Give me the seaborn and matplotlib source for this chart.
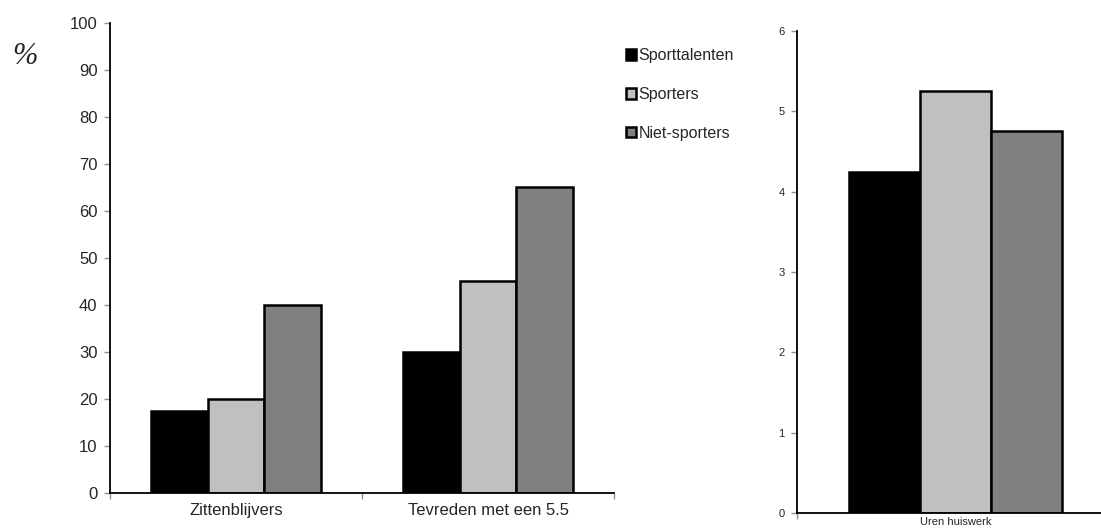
import matplotlib
matplotlib.use("Agg")
import matplotlib.pyplot as plt
import pandas as pd
import seaborn as sns

# data
groups = ["Sporttalenten", "Sporters", "Niet-sporters"]
colors = ["#000000", "#c0c0c0", "#808080"]

left_categories = ["Zittenblijvers", "Tevreden met een 5.5"]
zittenblijvers = [17.5, 20, 40]
tevreden = [30, 45, 65]

right_category = "Uren huiswerk"
uren_huiswerk = [4.25, 5.25, 4.75]

sns.set_style("white")
plt.rcParams["font.family"] = ["Liberation Sans", "DejaVu Sans"]

left_df = pd.DataFrame({
    "cat": [left_categories[0]] * 3 + [left_categories[1]] * 3,
    "group": groups * 2,
    "value": zittenblijvers + tevreden,
})
right_df = pd.DataFrame({
    "cat": [right_category] * 3,
    "group": groups,
    "value": uren_huiswerk,
})

W, H = 1101, 532
fig = plt.figure(figsize=(W / 100, H / 100), dpi=100)

ax1 = fig.add_axes([110 / W, 39 / H, 504 / W, 470 / H])
ax2 = fig.add_axes([797 / W, 19 / H, 317 / W, 482 / H])

palette = dict(zip(groups, colors))

sns.barplot(data=left_df, x="cat", y="value", hue="group", hue_order=groups,
            palette=palette, width=0.675, edgecolor="black", linewidth=1.8,
            saturation=1, ax=ax1, legend=True)
sns.barplot(data=right_df, x="cat", y="value", hue="group", hue_order=groups,
            palette=palette, width=0.67, edgecolor="black", linewidth=1.8,
            saturation=1, ax=ax2, legend=False)

for ax in (ax1, ax2):
    ax.set_xlabel("")
    ax.set_ylabel("")
    for s in ("top", "right"):
        ax.spines[s].set_visible(False)
    for s in ("left", "bottom"):
        ax.spines[s].set_color("black")
        ax.spines[s].set_linewidth(1.3)
    ax.tick_params(axis="x", which="major", length=0, pad=7)
    ax.tick_params(axis="x", which="minor", length=4, color="#909090", width=1,
                   direction="out", bottom=True)
    ax.tick_params(axis="y", length=4, color="#909090", width=1, direction="out",
                   left=True, pad=5)

ax1.set_ylim(0, 100)
ax1.set_yticks(range(0, 101, 10))
ax1.set_xlim(-0.5, 1.5)
ax1.set_xticks([-0.5, 0.5, 1.5], minor=True)
ax1.tick_params(axis="both", labelsize=12)

ax2.set_ylim(0, 6)
ax2.set_yticks(range(0, 7))
ax2.set_xlim(-0.5, 0.5)
ax2.set_xticks([-0.5], minor=True)
ax2.tick_params(axis="both", labelsize=8)
ax2.tick_params(axis="x", which="major", pad=3)

handles, labels = ax1.get_legend_handles_labels()
ax1.get_legend().remove()
fig.legend(handles, labels, loc="upper left", bbox_to_anchor=(626 / W, 1 - 48 / H),
           frameon=False, fontsize=11.5, handlelength=0.62, handleheight=0.62,
           handletextpad=0.15, labelspacing=1.5, borderpad=0, borderaxespad=0)

fig.text(12 / W, 1 - 57 / H, "%", family="Liberation Serif", style="italic",
         fontsize=22, va="center", ha="left")

fig.savefig("out.png", dpi=100)
